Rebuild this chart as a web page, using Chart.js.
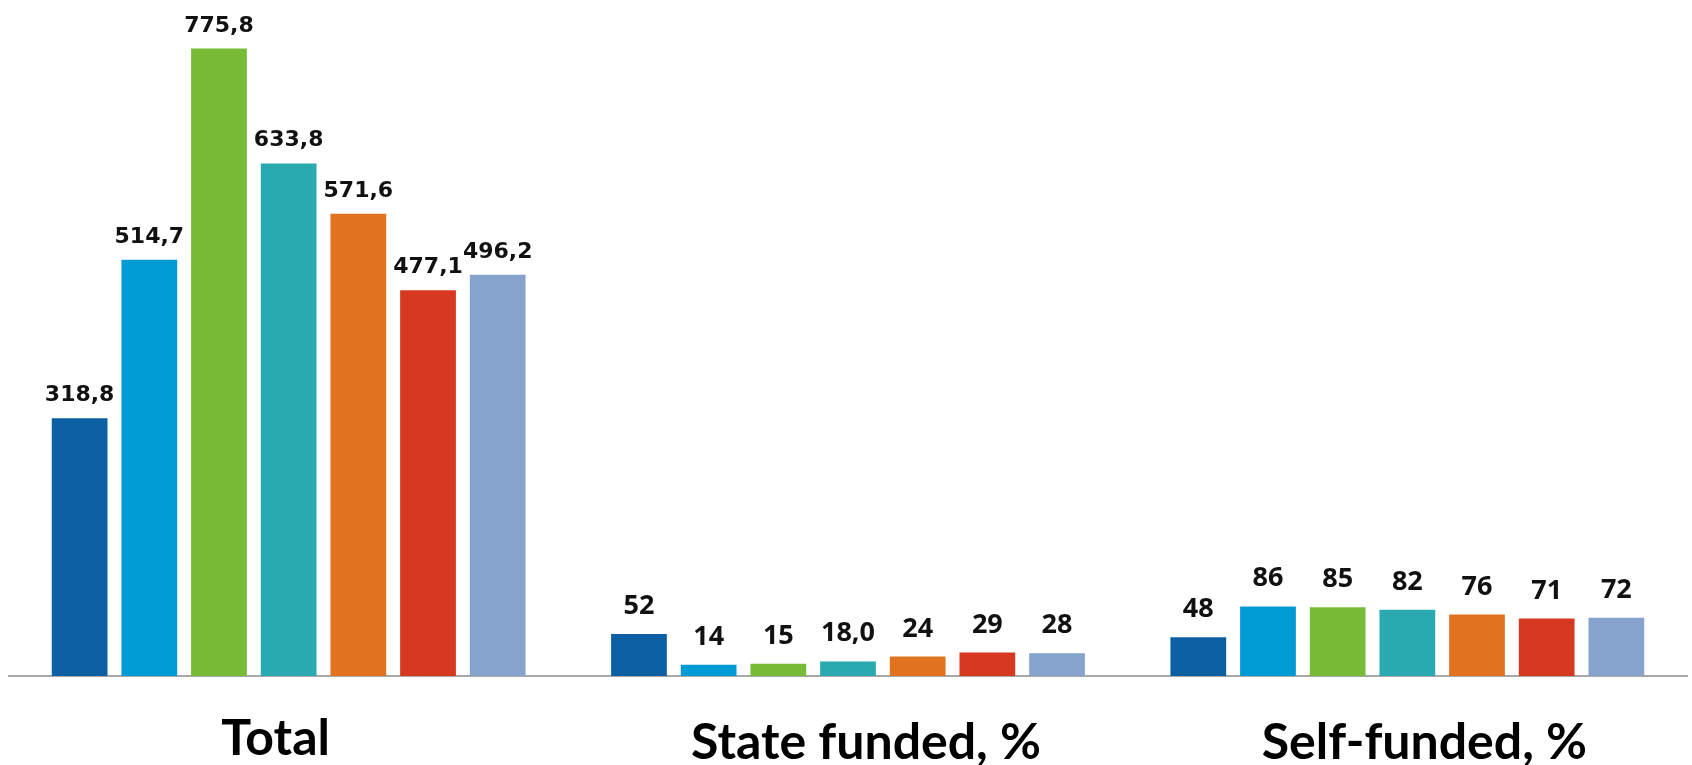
<!DOCTYPE html>
<html>
<head>
<meta charset="utf-8">
<script src="https://cdn.jsdelivr.net/npm/chart.js@4/dist/chart.umd.min.js"></script>
<style>
    html, body { margin: 0; padding: 0; background: #fff; }
    #wrap { width: 1692px; height: 765px; position: relative; }
</style>
</head>
<body>
<div id="wrap"><canvas id="fundingChart"></canvas></div>
<script>
// Données
const categories = ['Total', 'State funded, %', 'Self-funded, %'];
const series1 = [318.8, 52, 48];
const series2 = [514.7, 14, 86];
const series3 = [775.8, 15, 85];
const series4 = [633.8, 18.0, 82];
const series5 = [571.6, 24, 76];
const series6 = [477.1, 29, 71];
const series7 = [496.2, 28, 72];
// nombre de décimales affichées pour chaque valeur
const decimals1 = [1, 0, 0];
const decimals2 = [1, 0, 0];
const decimals3 = [1, 0, 0];
const decimals4 = [1, 1, 0];
const decimals5 = [1, 0, 0];
const decimals6 = [1, 0, 0];
const decimals7 = [1, 0, 0];

const allSeries = [series1, series2, series3, series4, series5, series6, series7];
const allDecimals = [decimals1, decimals2, decimals3, decimals4, decimals5, decimals6, decimals7];
const colors = ['#0b5fa2', '#009bd5', '#76bc36', '#2aa9b1', '#e1721f', '#d63920', '#86a3cd'];

// Décalage des titres de catégorie (comme sur l'original, pas tout à fait centrés)
const catShiftX = [-13, 18, 17];
const catBaseline = [755, 759, 759];

// Étiquettes de valeur au-dessus des barres + titres de catégorie
const valueLabels = {
    id: 'valueLabels',
    afterDatasetsDraw(chart) {
        const ctx = chart.ctx;
        ctx.save();
        ctx.fillStyle = '#111';
        ctx.textAlign = 'center';
        ctx.textBaseline = 'alphabetic';
        chart.data.datasets.forEach((ds, i) => {
            const meta = chart.getDatasetMeta(i);
            meta.data.forEach((bar, j) => {
                const v = ds.data[j];
                const txt = v.toFixed(allDecimals[i][j]).replace('.', ',');
                if (j === 0) {
                    ctx.font = 'bold 22px "DejaVu Sans"';
                    ctx.fillText(txt, bar.x, bar.y - 17);
                } else {
                    ctx.font = 'bold 27px "Open Sans"';
                    ctx.fillText(txt, bar.x, bar.y - 20);
                }
            });
        });
        // titres sous l'axe
        const xScale = chart.scales.x;
        ctx.fillStyle = '#000';
        ctx.font = 'bold 50px Lato';
        chart.data.labels.forEach((lab, k) => {
            ctx.fillText(lab, xScale.getPixelForValue(k) + catShiftX[k], catBaseline[k]);
        });
        ctx.restore();
    }
};

document.addEventListener('DOMContentLoaded', function() {
    const ctx = document.getElementById('fundingChart').getContext('2d');
    new Chart(ctx, {
        type: 'bar',
        data: {
            labels: categories,
            datasets: allSeries.map((s, i) => ({
                label: 'Series ' + (i + 1),
                data: s,
                backgroundColor: colors[i],
                categoryPercentage: 0.872,
                barPercentage: 0.80
            }))
        },
        options: {
            responsive: true,
            maintainAspectRatio: false,
            animation: false,
            layout: {
                padding: { top: 29, left: 9, right: 5, bottom: 0 }
            },
            plugins: {
                legend: { display: false },
                tooltip: { enabled: false }
            },
            scales: {
                x: {
                    grid: { display: false, drawTicks: false },
                    border: { display: true, color: '#a8a8a8', width: 2 },
                    afterFit: function(scale) { scale.height = 89; },
                    ticks: { display: false }
                },
                y: {
                    display: false,
                    min: 0,
                    max: 800
                }
            }
        },
        plugins: [valueLabels]
    });
});
</script>
</body>
</html>
